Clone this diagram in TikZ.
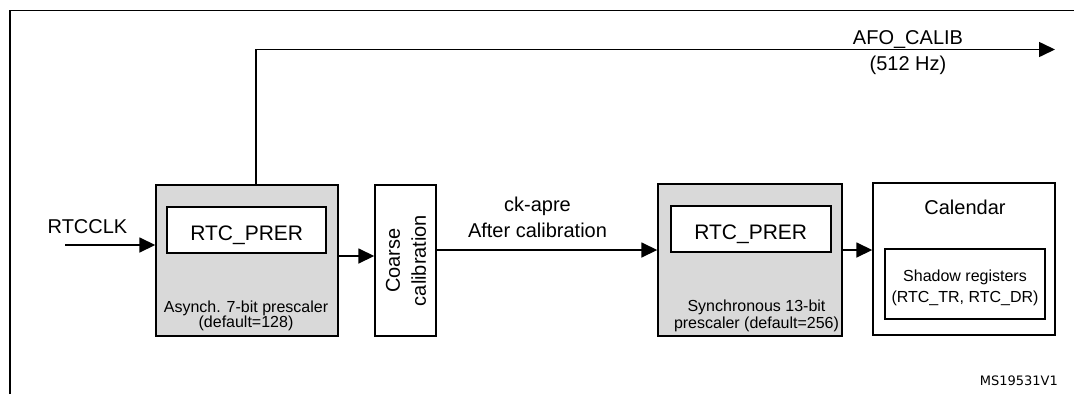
\documentclass[tikz,border=0pt]{standalone}
\usepackage{fontspec}
\setmainfont{Liberation Sans}
\newfontfamily\idfont{DejaVu Sans}
\usetikzlibrary{arrows.meta}
\definecolor{boxgray}{RGB}{217,217,217}
\begin{document}
\begin{tikzpicture}[x=1pt,y=1pt,
  blk/.style={draw, line width=1.4pt, inner sep=0pt, rectangle},
  conn/.style={line width=1.6pt, -{Triangle[length=16pt,width=15pt]}},
  bigtxt/.style={inner sep=0pt, font=\fontsize{20}{26}\selectfont, align=center},
  regtxt/.style={inner sep=0pt, font=\fontsize{21}{21}\selectfont},
  smalltxt/.style={inner sep=0pt, align=center}]
\useasboundingbox (0,0) rectangle (1074,-394);
% frame
\draw[line width=1.7pt] (10,-394) -- (10,-10.5) -- (1074,-10.5);

% asynchronous prescaler
\node[blk, fill=boxgray, minimum width=182pt, minimum height=151pt] (async) at (247,-260.5) {};
\node[blk, fill=white, minimum width=159pt, minimum height=46pt] (prer1) at (246.5,-230) {};
\node[regtxt, anchor=base] (prer1t) at (246.7,-240.7) {RTC\_PRER};
\node[smalltxt, font=\fontsize{16}{15.5}\selectfont] (asynct) at (246,-316) {Asynch. 7-bit prescaler\\(default=128)};

% coarse calibration
\node[blk, minimum width=61pt, minimum height=151pt] (coarse) at (405.5,-260.5) {};
\node[bigtxt, rotate=90] (coarset) at (406,-260.5) {Coarse\\calibration};

% synchronous prescaler
\node[blk, fill=boxgray, minimum width=184pt, minimum height=152pt] (sync) at (750,-260) {};
\node[blk, fill=white, minimum width=160pt, minimum height=46pt] (prer2) at (751,-229) {};
\node[regtxt, anchor=base] (prer2t) at (750.7,-239.5) {RTC\_PRER};
\node[smalltxt, font=\fontsize{16}{17.5}\selectfont] (synct) at (756.5,-316) {Synchronous 13-bit\\prescaler (default=256)};

% calendar
\node[blk, minimum width=182pt, minimum height=152pt] (cal) at (964,-259) {};
\node[bigtxt, anchor=base] (calt) at (965,-214.3) {Calendar};
\node[blk, minimum width=160pt, minimum height=70pt] (shadow) at (965,-284) {};
\node[smalltxt, font=\fontsize{16}{21.6}\selectfont] (shadowt) at (965,-288) {Shadow registers\\(RTC\_TR, RTC\_DR)};

% input
\coordinate (rtcin) at (65,-245);
\node[bigtxt, anchor=base] (rtcclk) at (87.5,-233.3) {RTCCLK};
\draw[conn] (rtcin) -- (rtcin -| async.west);

% connectors
\draw[conn] ([yshift=4.5pt]async.east) -- ([yshift=4.5pt]coarse.west);
\draw[conn] ([yshift=10.5pt]coarse.east) -- ([yshift=10.5pt]coarse.east -| sync.west);
\draw[conn] ([yshift=10pt]sync.east) -- ([yshift=10pt]sync.east -| cal.west);
\node[bigtxt, anchor=base] (ckapre) at (537.5,-211) {ck-apre};
\node[bigtxt, anchor=base] (aftercal) at (537.5,-237) {After calibration};

% AFO_CALIB output
\coordinate (afoend) at (1055,-49.5);
\draw[conn] ([xshift=9pt]async.north) |- (afoend);
\node[bigtxt, anchor=base] (afo) at (908,-44) {AFO\_CALIB};
\node[bigtxt, anchor=base] (afohz) at (908,-70) {(512 Hz)};

% figure id
\node[inner sep=0pt, anchor=base east, font=\idfont\fontsize{13}{13}\selectfont] (figid) at (1058,-385) {MS19531V1};
\end{tikzpicture}
\end{document}
